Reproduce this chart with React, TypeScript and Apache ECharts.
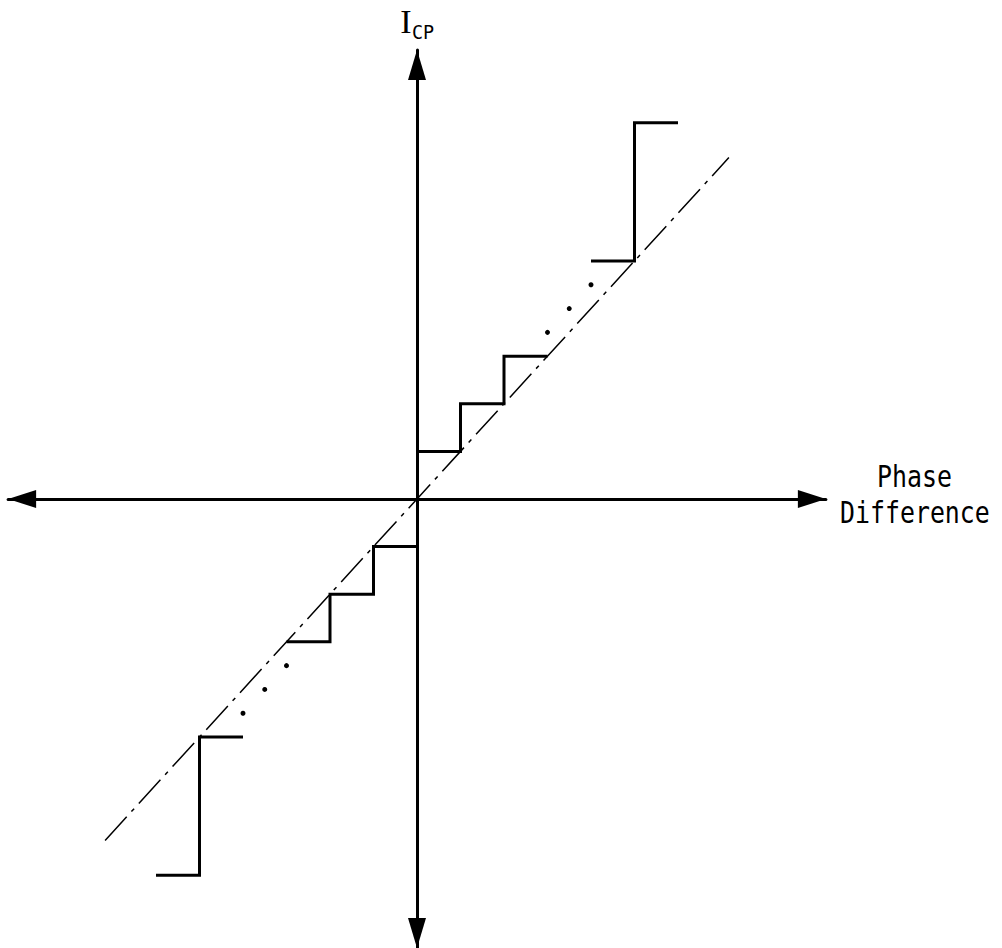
import React, { useEffect, useRef } from "react";
import * as echarts from "echarts";

// Staircase (quantised charge-pump current) segments, in axis units
const upperSteps: number[][] = [[0, 1], [1, 1], [1, 2], [2, 2], [2, 3], [3, 3]];
const upperTopStep: number[][] = [[4, 5], [5, 5], [5, 7.9], [6, 7.9]];
const lowerSteps: number[][] = [[0, -1], [-1, -1], [-1, -2], [-2, -2], [-2, -3], [-3, -3]];
const lowerBottomStep: number[][] = [[-4, -5], [-5, -5], [-5, -7.9], [-6, -7.9]];
// Ellipsis dots
const ellipsisDots: number[][] = [[3, 3.5], [3.5, 4], [4, 4.5], [-3, -3.5], [-3.5, -4], [-4, -4.5]];
// Ideal linear characteristic (dash-dot)
const idealLine: number[][] = [[-7.17, -7.17], [7.17, 7.17]];
// Axis extents
const xRange = [-9.4, 9.4];
const yRange = [-9.43, 9.43];
// Labels
const yLabelMain = "I";
const yLabelSub = "CP";
const xLabelLines = ["Phase", "Difference"];

export default function App() {
  const ref = useRef<HTMLDivElement>(null);
  useEffect(() => {
    if (!ref.current) return;
    const chart = echarts.init(ref.current, undefined, { renderer: "svg" });
    const stepStyle = { color: "#000", width: 3, join: "miter" as const, cap: "butt" as const };
    const axisCommon = {
      type: "value" as const,
      axisTick: { show: false },
      axisLabel: { show: false },
      splitLine: { show: false },
    };
    chart.setOption({
      animation: false,
      backgroundColor: "#fff",
      grid: { left: 8.1, top: 50, width: 817.8, height: 898, outerBoundsMode: "none" },
      xAxis: {
        ...axisCommon,
        min: xRange[0],
        max: xRange[1],
        axisLine: {
          show: true,
          onZero: true,
          symbol: ["triangle", "triangle"],
          symbolSize: [18, 28],
          symbolOffset: [14, -14],
          lineStyle: { color: "#000", width: 3 },
        },
      },
      yAxis: {
        ...axisCommon,
        min: yRange[0],
        max: yRange[1],
        axisLine: {
          show: true,
          onZero: true,
          symbol: ["triangle", "triangle"],
          symbolSize: [18, 30],
          symbolOffset: [15, -15],
          lineStyle: { color: "#000", width: 3 },
        },
      },
      series: [
        {
          type: "line",
          data: idealLine,
          symbol: "none",
          lineStyle: { color: "#000", width: 1.5, type: [32, 7, 4, 7] },
          z: 1,
        },
        { type: "line", data: upperSteps, symbol: "none", lineStyle: stepStyle, z: 3 },
        { type: "line", data: upperTopStep, symbol: "none", lineStyle: stepStyle, z: 3 },
        { type: "line", data: lowerSteps, symbol: "none", lineStyle: stepStyle, z: 3 },
        { type: "line", data: lowerBottomStep, symbol: "none", lineStyle: stepStyle, z: 3 },
        {
          type: "scatter",
          data: ellipsisDots,
          symbol: "circle",
          symbolSize: 5,
          itemStyle: { color: "#000", opacity: 1 },
          z: 3,
        },
      ],
      graphic: [
        {
          type: "text",
          x: 406,
          y: 21.5,
          style: {
            text: yLabelMain,
            fontSize: 34,
            fontFamily: "Liberation Serif",
            fill: "#000",
            align: "center",
            verticalAlign: "middle",
          },
        },
        {
          type: "text",
          x: 412,
          y: 32.5,
          scaleX: 0.92,
          style: {
            text: yLabelSub,
            fontSize: 20,
            fontFamily: "DejaVu Sans Mono",
            fill: "#000",
            align: "left",
            verticalAlign: "middle",
          },
        },
        {
          type: "text",
          x: 877,
          y: 476,
          scaleX: 0.83,
          style: {
            text: xLabelLines[0],
            fontSize: 30,
            fontFamily: "DejaVu Sans Mono",
            fill: "#000",
            align: "left",
            verticalAlign: "middle",
          },
        },
        {
          type: "text",
          x: 840,
          y: 512,
          scaleX: 0.83,
          style: {
            text: xLabelLines[1],
            fontSize: 30,
            fontFamily: "DejaVu Sans Mono",
            fill: "#000",
            align: "left",
            verticalAlign: "middle",
          },
        },
      ],
    });
    return () => chart.dispose();
  }, []);
  return (
    <div
      ref={ref}
      style={{ position: "absolute", left: 0, top: 0, width: 1002, height: 948, background: "#fff" }}
    />
  );
}
